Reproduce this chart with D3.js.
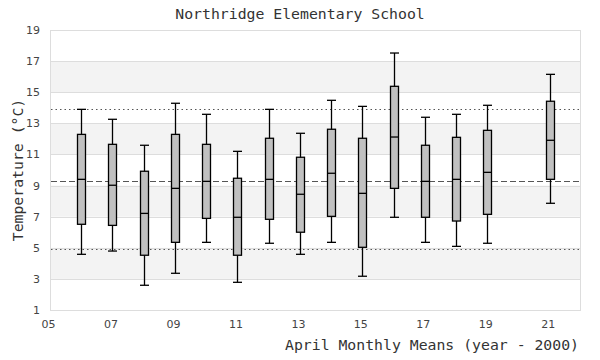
<!DOCTYPE html>
<html>
<head>
<meta charset="utf-8">
<script src="https://cdn.jsdelivr.net/npm/d3@7"></script>
<style>
  html, body { margin: 0; padding: 0; background: #fff; }
  svg { display: block; }
</style>
</head>
<body>
<svg id="chart" width="600" height="360"></svg>
<script>
const years    = [6, 7, 8, 9, 10, 11, 12, 13, 14, 15, 16, 17, 18, 19, 21];
const whiskLow = [4.58, 4.79, 2.59, 3.36, 5.35, 2.78, 5.29, 4.58, 5.35, 3.17, 6.96, 5.35, 5.09, 5.29, 7.86];
const q1       = [6.51, 6.44, 4.52, 5.35, 6.89, 4.52, 6.83, 6.00, 7.02, 5.03, 8.82, 6.96, 6.72, 7.15, 9.40];
const medians  = [9.40, 9.02, 7.21, 8.82, 9.27, 6.96, 9.40, 8.44, 9.79, 8.50, 12.12, 9.27, 9.40, 9.85, 11.91];
const q3       = [12.29, 11.65, 9.92, 12.29, 11.65, 9.47, 12.04, 10.82, 12.62, 12.04, 15.38, 11.59, 12.10, 12.55, 14.42];
const whiskHigh= [13.90, 13.26, 11.59, 14.29, 13.58, 11.20, 13.90, 12.36, 14.48, 14.09, 17.52, 13.39, 13.58, 14.16, 16.15];

const xTicks = [5, 7, 9, 11, 13, 15, 17, 19, 21];
const yTicks = [1, 3, 5, 7, 9, 11, 13, 15, 17, 19];
const refUpper = 13.90, refMean = 9.28, refLower = 4.93;

const titleText = "Northridge Elementary School";
const xTitle = "April Monthly Means (year - 2000)";
const yTitle = "Temperature (°C)";

const svg = d3.select("#chart");
const L = 50, R = 581, T = 30, B = 310;
const x = d3.scaleLinear().domain([5, 22]).range([L, R]);
const y = d3.scaleLinear().domain([1, 19]).range([B, T]);

// bands
const bands = [[3,5],[7,9],[11,13],[15,17]];
svg.append("g").selectAll("rect").data(bands).join("rect")
  .attr("x", L).attr("width", R - L)
  .attr("y", d => y(d[1])).attr("height", d => y(d[0]) - y(d[1]))
  .attr("fill", "#f3f3f3");

// gridlines
svg.append("g").selectAll("line").data(yTicks).join("line")
  .attr("x1", L).attr("x2", R)
  .attr("y1", d => Math.round(y(d)) + 0.5).attr("y2", d => Math.round(y(d)) + 0.5)
  .attr("stroke", "#dddddd").attr("stroke-width", 1);

// border
svg.append("rect").attr("x", L + 0.5).attr("y", T + 0.5)
  .attr("width", R - L - 1).attr("height", B - T)
  .attr("fill", "none").attr("stroke", "#dddddd").attr("stroke-width", 1);

// reference lines
const refs = [[refUpper, "1.5,3"], [refMean, "6,3"], [refLower, "1.5,3"]];
svg.append("g").selectAll("line").data(refs).join("line")
  .attr("x1", L + 1).attr("x2", R - 1)
  .attr("y1", d => Math.round(y(d[0])) + 0.5).attr("y2", d => Math.round(y(d[0])) + 0.5)
  .attr("stroke", "#555").attr("stroke-width", 1)
  .attr("stroke-dasharray", d => d[1]);

// axes (labels only)
const yAxis = d3.axisLeft(y).tickValues(yTicks).tickSize(0).tickPadding(10).tickFormat(d3.format("d"));
const gy = svg.append("g").attr("transform", `translate(${L},0)`).call(yAxis);
const xAxis = d3.axisBottom(x).tickValues(xTicks).tickSize(0).tickPadding(10).tickFormat(d => String(d).padStart(2, "0"));
const gx = svg.append("g").attr("transform", `translate(0,${B})`).call(xAxis);
[gx, gy].forEach(g => {
  g.select(".domain").remove();
  g.selectAll("text").attr("font-family", "DejaVu Sans, sans-serif").attr("font-size", 11).attr("fill", "#444");
});
gx.selectAll("text").attr("dx", -2);

// boxes
const data = years.map((yr, i) => ({yr, lo: whiskLow[i], q1: q1[i], med: medians[i], q3: q3[i], hi: whiskHigh[i]}));
const bw = 8;
const g = svg.append("g").selectAll("g").data(data).join("g")
  .attr("transform", d => `translate(${Math.round(x(d.yr)) + 0.5},0)`);
const sw = 1.3;
g.append("line").attr("x1", 0).attr("x2", 0).attr("y1", d => y(d.hi)).attr("y2", d => y(d.lo))
  .attr("stroke", "#000").attr("stroke-width", sw);
g.append("line").attr("x1", -bw/2 - 0.5).attr("x2", bw/2 + 0.5).attr("y1", d => y(d.hi)).attr("y2", d => y(d.hi))
  .attr("stroke", "#000").attr("stroke-width", sw);
g.append("line").attr("x1", -bw/2 - 0.5).attr("x2", bw/2 + 0.5).attr("y1", d => y(d.lo)).attr("y2", d => y(d.lo))
  .attr("stroke", "#000").attr("stroke-width", sw);
g.append("rect").attr("x", -bw/2).attr("width", bw)
  .attr("y", d => y(d.q3)).attr("height", d => y(d.q1) - y(d.q3))
  .attr("fill", "#c0c0c0").attr("stroke", "#000").attr("stroke-width", sw);
g.append("line").attr("x1", -bw/2).attr("x2", bw/2).attr("y1", d => y(d.med)).attr("y2", d => y(d.med))
  .attr("stroke", "#000").attr("stroke-width", sw);

// titles
const mono = "DejaVu Sans Mono, monospace";
svg.append("text").attr("x", 300).attr("y", 19).attr("text-anchor", "middle")
  .attr("font-family", mono).attr("font-size", 14.8).attr("fill", "#333").text(titleText);
svg.append("text").attr("x", 579).attr("y", 350).attr("text-anchor", "end")
  .attr("font-family", mono).attr("font-size", 14.8).attr("fill", "#333").text(xTitle);
svg.append("text").attr("transform", `translate(23,${(T + B) / 2}) rotate(-90)`).attr("text-anchor", "middle")
  .attr("font-family", mono).attr("font-size", 14.8).attr("fill", "#333").text(yTitle);
</script>
</body>
</html>
